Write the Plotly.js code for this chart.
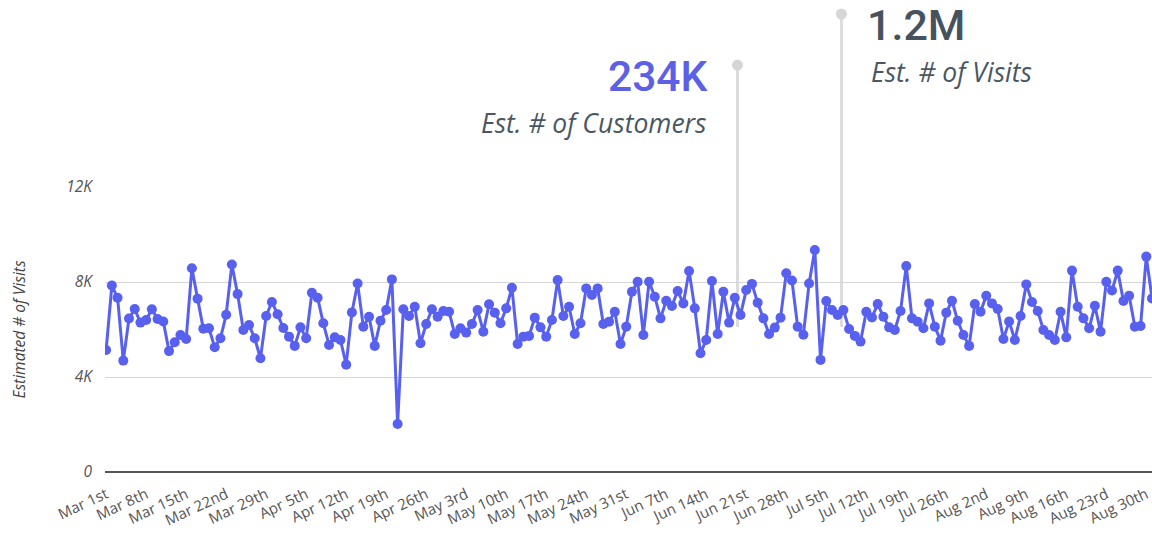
<!DOCTYPE html>
<html>
<head>
<meta charset="utf-8">
<script src="https://cdn.plot.ly/plotly-3.0.1.min.js"></script>
<style>
  html, body { margin: 0; padding: 0; background: #ffffff; }
  #chart { width: 1152px; height: 533px; }
</style>
</head>
<body>
<div id="chart"></div>
<script>
// ---- Data (daily estimated visits, Mar 1st .. Aug 31st) ----
const START_DATE = '2021-03-01';
const visitsMar = [5140, 7850, 7340, 4690, 6460, 6860, 6290, 6400, 6850, 6440, 6340, 5090, 5460, 5770, 5600, 8580, 7300, 6030, 6050, 5250, 5630, 6620, 8740, 7490, 5980, 6190, 5630, 4790, 6570, 7160, 6640];
const visitsApr = [6060, 5700, 5310, 6090, 5630, 7550, 7340, 6260, 5350, 5670, 5560, 4520, 6720, 7940, 6120, 6540, 5310, 6370, 6820, 8110, 2020, 6850, 6570, 6960, 5420, 6230, 6850, 6540, 6780, 6750];
const visitsMay = [5810, 6050, 5870, 6230, 6820, 5910, 7060, 6710, 6260, 6890, 7760, 5390, 5700, 5730, 6500, 6090, 5700, 6400, 8080, 6570, 6960, 5810, 6260, 7730, 7450, 7730, 6230, 6330, 6750, 5390, 6120];
const visitsJun = [7590, 8010, 5770, 8010, 7380, 6470, 7210, 6990, 7620, 7100, 8460, 6890, 5000, 5560, 8040, 5810, 7590, 6290, 7340, 6610, 7660, 7920, 7130, 6470, 5810, 6080, 6500, 8370, 8060, 6120];
const visitsJul = [5780, 7940, 9350, 4720, 7200, 6820, 6610, 6820, 6020, 5730, 5490, 6750, 6510, 7070, 6540, 6090, 5980, 6780, 8670, 6470, 6330, 6050, 7100, 6120, 5530, 6710, 7210, 6370, 5770, 5310, 7070];
const visitsAug = [6750, 7420, 7100, 6860, 5600, 6340, 5560, 6570, 7900, 7160, 6780, 5980, 5770, 5560, 6750, 5670, 8480, 6960, 6470, 6050, 7000, 5910, 8010, 7640, 8480, 7200, 7420, 6120, 6150, 9070, 7310];

const xTickLabels = ['Mar 1st','Mar 8th','Mar 15th','Mar 22nd','Mar 29th','Apr 5th','Apr 12th','Apr 19th','Apr 26th','May 3rd','May 10th','May 17th','May 24th','May 31st','Jun 7th','Jun 14th','Jun 21st','Jun 28th','Jul 5th','Jul 12th','Jul 19th','Jul 26th','Aug 2nd','Aug 9th','Aug 16th','Aug 23rd','Aug 30th'];
const yTickVals = [0, 4000, 8000, 12000];
const yTickLabels = ['0', '4K', '8K', '12K'];

const kpiCustomersValue = '234K';
const kpiCustomersLabel = 'Est. # of Customers';
const kpiVisitsValue = '1.2M';
const kpiVisitsLabel = 'Est. # of Visits';

// ---- Build series ----
const visits = [].concat(visitsMar, visitsApr, visitsMay, visitsJun, visitsJul, visitsAug);
function isoDay(offset) {
  const d = new Date(START_DATE + 'T00:00:00Z');
  d.setUTCDate(d.getUTCDate() + offset);
  return d.toISOString().slice(0, 10);
}
const dates = visits.map((_, i) => isoDay(i));
const tickVals = xTickLabels.map((_, i) => isoDay(i * 7));

const LINE_COLOR = '#5860ef';

const trace = {
  x: dates,
  y: visits,
  type: 'scatter',
  mode: 'lines+markers',
  line: { color: LINE_COLOR, width: 3 },
  marker: { color: LINE_COLOR, size: 10 },
  hoverinfo: 'x+y'
};

// positions (paper coords)
const xLine1 = 0.6041, xLine2 = 0.7034;
const yLineBottom = 0.5088;

const layout = {
  width: 1152,
  height: 533,
  margin: { l: 105, r: 0, t: 187, b: 61 },
  paper_bgcolor: '#ffffff',
  plot_bgcolor: '#ffffff',
  showlegend: false,
  font: { family: 'Open Sans, sans-serif', color: '#555555' },
  xaxis: {
    type: 'date',
    range: ['2021-02-28 19:12', '2021-08-31 00:00'],
    tickmode: 'array',
    tickvals: tickVals,
    ticktext: xTickLabels,
    tickangle: -25,
    tickfont: { family: 'Open Sans', size: 15, color: '#555555' },
    ticklabelstandoff: 10,
    showgrid: false,
    zeroline: false,
    showline: false,
    ticks: '',
    automargin: false
  },
  yaxis: {
    range: [0, 12000],
    tickmode: 'array',
    tickvals: yTickVals,
    ticktext: yTickLabels,
    tickfont: { family: 'Open Sans', size: 15.5, color: '#555555', style: 'italic' },
    ticklabelstandoff: 12,
    showgrid: true,
    gridcolor: '#d6d6d6',
    gridwidth: 1,
    zeroline: true,
    zerolinecolor: '#555555',
    zerolinewidth: 2,
    showline: false,
    ticks: '',
    automargin: true,
    title: {
      text: 'Estimated # of Visits',
      font: { family: 'Open Sans', size: 15.5, color: '#444444', style: 'italic' },
      standoff: 36
    }
  },
  shapes: [
    { type: 'line', xref: 'paper', yref: 'paper', x0: xLine1, x1: xLine1, y0: yLineBottom, y1: 1.428,
      line: { color: '#dcdcdc', width: 3 }, layer: 'below' },
    { type: 'line', xref: 'paper', yref: 'paper', x0: xLine2, x1: xLine2, y0: yLineBottom, y1: 1.607,
      line: { color: '#dcdcdc', width: 3 }, layer: 'below' },
    { type: 'circle', xref: 'paper', yref: 'paper', xsizemode: 'pixel', ysizemode: 'pixel',
      xanchor: xLine1, yanchor: 1.428, x0: -5.5, x1: 5.5, y0: -5.5, y1: 5.5,
      fillcolor: '#d6d6d6', line: { width: 0 } },
    { type: 'circle', xref: 'paper', yref: 'paper', xsizemode: 'pixel', ysizemode: 'pixel',
      xanchor: xLine2, yanchor: 1.607, x0: -5.5, x1: 5.5, y0: -5.5, y1: 5.5,
      fillcolor: '#d6d6d6', line: { width: 0 } }
  ],
  annotations: [
    { text: kpiCustomersValue, xref: 'paper', yref: 'paper', x: 0.5778, y: 1.386,
      xanchor: 'right', yanchor: 'middle', showarrow: false,
      font: { family: 'Roboto', size: 42.5, color: '#5b60e6', weight: 500 } },
    { text: kpiCustomersLabel, xref: 'paper', yref: 'paper', x: 0.5755, y: 1.224,
      xanchor: 'right', yanchor: 'middle', showarrow: false,
      font: { family: 'Open Sans', size: 26.5, color: '#4a5763', style: 'italic' } },
    { text: kpiVisitsValue, xref: 'paper', yref: 'paper', x: 0.7255, y: 1.568,
      xanchor: 'left', yanchor: 'middle', showarrow: false,
      font: { family: 'Roboto', size: 43, color: '#46535e', weight: 500 } },
    { text: kpiVisitsLabel, xref: 'paper', yref: 'paper', x: 0.7298, y: 1.403,
      xanchor: 'left', yanchor: 'middle', showarrow: false,
      font: { family: 'Open Sans', size: 26.5, color: '#4a5763', style: 'italic' } }
  ]
};

Plotly.newPlot('chart', [trace], layout, { displayModeBar: false, responsive: false });
</script>
</body>
</html>
